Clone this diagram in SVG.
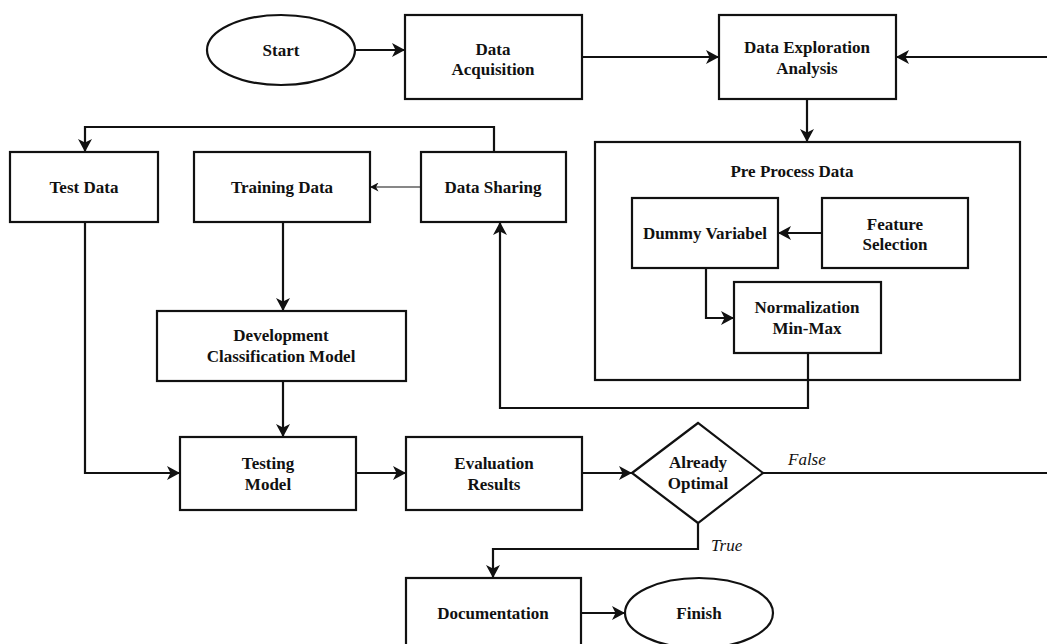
<svg xmlns="http://www.w3.org/2000/svg" width="1047" height="644" viewBox="0 0 1047 644">
<style>
.box{fill:#fff;stroke:#111;stroke-width:2.2}
.frame{fill:none;stroke:#111;stroke-width:2.2}
.t{font-family:"Liberation Serif","Times New Roman",serif;font-size:17px;font-weight:bold;fill:#111;text-anchor:middle}
.lbl{font-family:"Liberation Serif","Times New Roman",serif;font-size:17px;font-style:italic;fill:#111}
.c{fill:none;stroke:#111;stroke-width:2.2}
.thin{fill:none;stroke:#111;stroke-width:1.2}
</style>
<defs>
<marker id="ah" markerUnits="userSpaceOnUse" markerWidth="14" markerHeight="14" refX="13" refY="7" orient="auto">
<path d="M0,0 L13,7 L0,14 L3.5,7 Z" fill="#111"/>
</marker>
<marker id="ahs" markerUnits="userSpaceOnUse" markerWidth="9" markerHeight="9" refX="8.5" refY="4.5" orient="auto">
<path d="M0,0 L8.5,4.5 L0,9 L2.5,4.5 Z" fill="#111"/>
</marker>
</defs>
<rect width="1047" height="644" fill="#fff"/>
<g id="pre-process"><rect class="frame" x="595" y="142" width="425" height="238"/><text class="t" x="792" y="177">Pre Process Data</text></g>
<g id="connectors">
<path class="c" d="M355,50 L405,50" marker-end="url(#ah)"/>
<path class="c" d="M582,57 L719,57" marker-end="url(#ah)"/>
<path class="c" d="M1047,57 L896,57" marker-end="url(#ah)"/>
<path class="c" d="M807,99 L807,142" marker-end="url(#ah)"/>
<path class="c" d="M822,233 L778,233" marker-end="url(#ah)"/>
<path class="c" d="M706,268 L706,318 L734,318" marker-end="url(#ah)"/>
<path class="c" d="M808,353 L808,408 L500,408 L500,222" marker-end="url(#ah)"/>
<path class="thin" d="M421,187 L370,187" marker-end="url(#ahs)"/>
<path class="c" d="M494,152 L494,127 L85,127 L85,152" marker-end="url(#ah)"/>
<path class="c" d="M85,222 L85,473 L180,473" marker-end="url(#ah)"/>
<path class="c" d="M283,222 L283,311" marker-end="url(#ah)"/>
<path class="c" d="M283,381 L283,437" marker-end="url(#ah)"/>
<path class="c" d="M356,473 L406,473" marker-end="url(#ah)"/>
<path class="c" d="M582,473 L632,473" marker-end="url(#ah)"/>
<path class="c" d="M763,473 L1047,473"/>
<path class="c" d="M698,523 L698,549 L493,549 L493,578" marker-end="url(#ah)"/>
<path class="c" d="M581,613 L625,613" marker-end="url(#ah)"/>
<text class="lbl" x="788" y="465">False</text>
<text class="lbl" x="711" y="551">True</text>
</g>
<g id="start"><ellipse class="box" cx="281" cy="50" rx="74" ry="35"/><text class="t" x="281" y="56">Start</text></g>
<g id="data-acquisition"><rect class="box" x="405" y="15" width="177" height="84"/><text class="t" x="493" y="55">Data</text><text class="t" x="493" y="75">Acquisition</text></g>
<g id="data-exploration"><rect class="box" x="719" y="15" width="177" height="84"/><text class="t" x="807" y="53">Data Exploration</text><text class="t" x="807" y="74">Analysis</text></g>
<g id="dummy-variabel"><rect class="box" x="632" y="198" width="146" height="70"/><text class="t" x="705" y="239">Dummy Variabel</text></g>
<g id="feature-selection"><rect class="box" x="822" y="198" width="146" height="70"/><text class="t" x="895" y="230">Feature</text><text class="t" x="895" y="250">Selection</text></g>
<g id="normalization"><rect class="box" x="734" y="282" width="147" height="71"/><text class="t" x="807" y="313">Normalization</text><text class="t" x="807" y="334">Min-Max</text></g>
<g id="test-data"><rect class="box" x="10" y="152" width="148" height="70"/><text class="t" x="84" y="193">Test Data</text></g>
<g id="training-data"><rect class="box" x="194" y="152" width="176" height="70"/><text class="t" x="282" y="193">Training Data</text></g>
<g id="data-sharing"><rect class="box" x="421" y="152" width="145" height="70"/><text class="t" x="493" y="193">Data Sharing</text></g>
<g id="development"><rect class="box" x="157" y="311" width="249" height="70"/><text class="t" x="281" y="341">Development</text><text class="t" x="281" y="362">Classification Model</text></g>
<g id="testing-model"><rect class="box" x="180" y="437" width="176" height="73"/><text class="t" x="268" y="469">Testing</text><text class="t" x="268" y="490">Model</text></g>
<g id="evaluation"><rect class="box" x="406" y="437" width="176" height="73"/><text class="t" x="494" y="469">Evaluation</text><text class="t" x="494" y="490">Results</text></g>
<g id="already-optimal"><polygon class="box" points="632,473 698,423 763,473 698,523"/><text class="t" x="698" y="468">Already</text><text class="t" x="698" y="489">Optimal</text></g>
<g id="documentation"><rect class="box" x="406" y="578" width="175" height="72"/><text class="t" x="493" y="619">Documentation</text></g>
<g id="finish"><ellipse class="box" cx="699" cy="613" rx="74" ry="35"/><text class="t" x="699" y="619">Finish</text></g>
</svg>
